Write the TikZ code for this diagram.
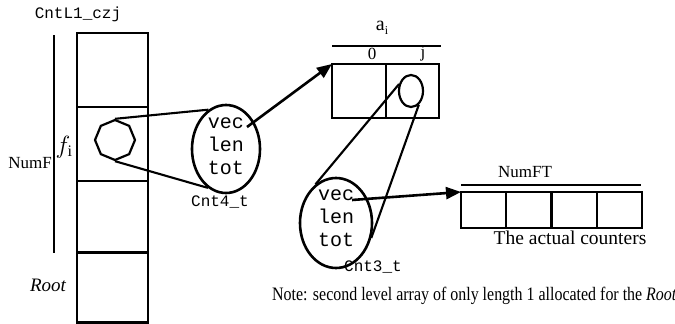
\documentclass[tikz,border=0pt]{standalone}
\usepackage{fontspec}
\setmainfont{Liberation Serif}
\setmonofont{Liberation Mono}
\newfontfamily\condserif[FakeStretch=0.84]{Liberation Serif}
\usetikzlibrary{shapes.geometric,arrows.meta}
\begin{document}
\begin{tikzpicture}[x=1pt,y=-1pt,
  cellbox/.style={draw, line width=2.2pt, inner sep=0pt, outer sep=0pt},
  blob/.style={ellipse, draw, line width=2.6pt, inner sep=0pt},
  conn/.style={line width=2.1pt},
  arr/.style={line width=2.6pt, -{Triangle[length=15pt,width=12pt]}},
  rule/.style={line width=2.2pt},
  mono/.style={font=\fontsize{20}{23}\selectfont\ttfamily, align=left, inner sep=0pt},
  monosm/.style={font=\fontsize{16}{18}\selectfont\ttfamily, inner sep=0pt},
  serif/.style={font=\fontsize{17}{20}\selectfont, inner sep=0pt},
]
\useasboundingbox (0,0) rectangle (675,324);

% left column
\node[cellbox, minimum width=71pt, minimum height=74pt] (c1) at (112.5,70) {};
\node[cellbox, minimum width=71pt, minimum height=74pt] (c2) at (112.5,144) {};
\node[cellbox, minimum width=71pt, minimum height=72pt] (c3) at (112.5,217) {};
\node[cellbox, minimum width=71pt, minimum height=70pt] (c4) at (112.5,287.5) {};
\node[monosm] (lblcol) at (78,14) {CntL1\_czj};
\draw[rule] (54,35) -- (54,253);
\node[serif] (numf) at (30,163) {NumF};
\node[serif, font=\fontsize{23}{26}\selectfont] (fi) at (64,147) {$f_{\mathrm{i}}$};
\node[serif, font=\fontsize{19}{22}\selectfont\itshape] (root) at (48,285) {Root};

% octagon in cell
\node[regular polygon, regular polygon sides=8, shape border rotate=22.5, draw, line width=2.2pt, minimum size=40pt, inner sep=0pt] (hp) at (115,140) {};

% first ellipse
\node[blob, minimum width=68pt, minimum height=88pt] (e1) at (226,149) {};
\node[mono] (t1) at (226,146) {vec\\len\\tot};
\node[monosm] (cnt4) at (220,202) {Cnt4\_t};
\draw[conn] (hp.north) -- (e1.114);
\draw[conn] (hp.south) -- (e1.245);

% a_i array
\node[cellbox, minimum width=54pt, minimum height=54pt] (a0) at (359,91) {};
\node[cellbox, minimum width=53pt, minimum height=54pt] (aj) at (412.5,91) {};
\draw[rule] (332,46) -- (441,46);
\node[serif, font=\fontsize{20}{22}\selectfont] (ai) at (382,28) {a\raisebox{-0.4ex}{\fontsize{12}{13}\selectfont i}};
\node[serif, font=\fontsize{17}{19}\selectfont] (l0) at (372,54) {0};
\node[serif, font=\fontsize{17}{19}\selectfont] (lj) at (423,54) {j};
\draw[arr] (247,127) -- (a0.north west);

% small ellipse in cell j
\node[ellipse, draw, line width=2.2pt, minimum width=24pt, minimum height=32pt, inner sep=0pt] (se) at (411,91) {};

% second ellipse
\node[blob, minimum width=72pt, minimum height=90pt] (e2) at (336,223) {};
\node[mono] (t2) at (336,218) {vec\\len\\tot};
\node[monosm] (cnt3) at (373,267) {Cnt3\_t};
\draw[conn] (se.150) -- (e2.118);
\draw[conn] (se.300) -- (e2.337);

% NumFT array
\node[cellbox, minimum width=45.25pt, minimum height=36pt] (n1) at (483.6,210) {};
\node[cellbox, minimum width=45.25pt, minimum height=36pt] (n2) at (528.9,210) {};
\node[cellbox, minimum width=45.25pt, minimum height=36pt] (n3) at (574.1,210) {};
\node[cellbox, minimum width=45.25pt, minimum height=36pt] (n4) at (619.4,210) {};
\draw[rule] (461,185) -- (641,185);
\node[serif] (numft) at (525,172) {NumFT};
\node[serif, font=\fontsize{19.5}{22}\selectfont] (actual) at (570,238) {The actual counters};
\draw[arr] (352,200) -- (n1.north west);

% note
\node[inner sep=0pt, anchor=west, font=\fontsize{19}{22}\condserif] (note) at (272,296) {Note: second level array of only length 1 allocated for the \textit{Root}};
\end{tikzpicture}
\end{document}
